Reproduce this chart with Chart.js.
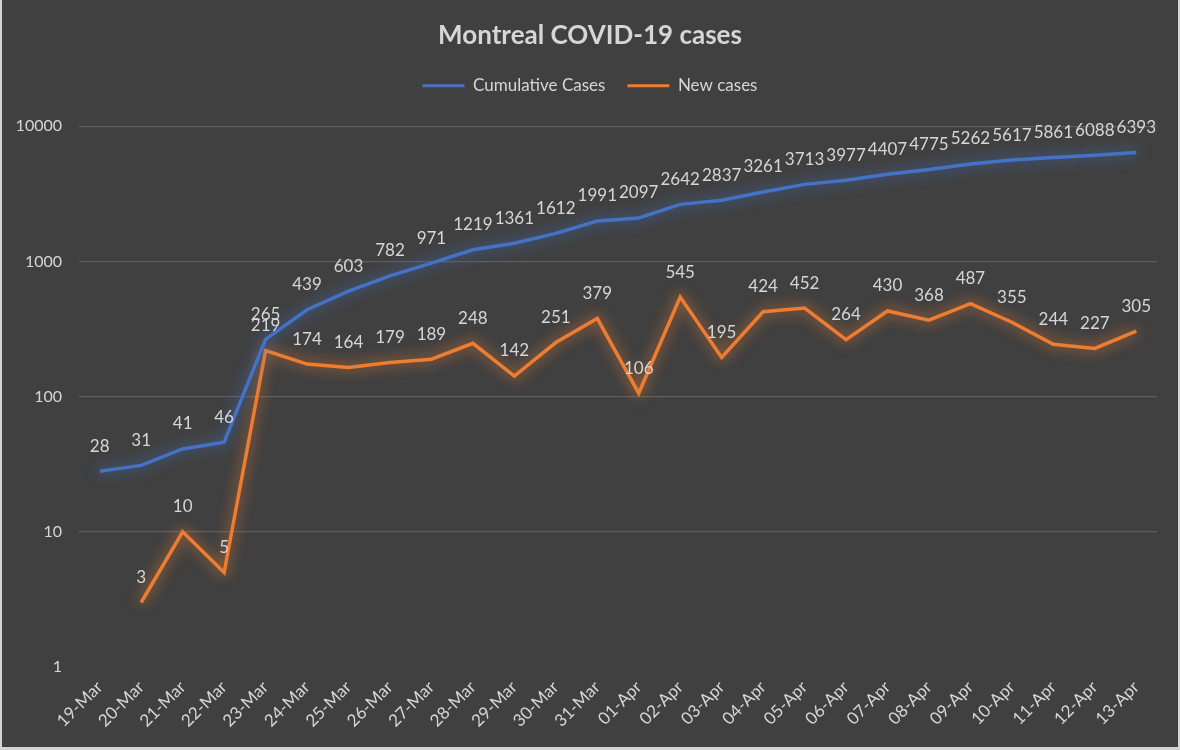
<!DOCTYPE html>
<html>
<head>
<meta charset="utf-8">
<title>Montreal COVID-19 cases</title>
<script src="https://cdn.jsdelivr.net/npm/chart.js@4"></script>
<style>
  html, body { margin: 0; padding: 0; background: #d4d4d4; width: 1180px; height: 750px; overflow: hidden; }
  #wrap { position: absolute; left: 2px; top: 0; width: 1176px; height: 747px; background: #404040; }
</style>
</head>
<body>
<div id="wrap"><canvas id="covidChart"></canvas></div>
<script>
// Daily data, 19-Mar to 13-Apr
const days = ['19-Mar', '20-Mar', '21-Mar', '22-Mar', '23-Mar', '24-Mar', '25-Mar', '26-Mar', '27-Mar',
  '28-Mar', '29-Mar', '30-Mar', '31-Mar', '01-Apr', '02-Apr', '03-Apr', '04-Apr', '05-Apr', '06-Apr',
  '07-Apr', '08-Apr', '09-Apr', '10-Apr', '11-Apr', '12-Apr', '13-Apr'];
const cumulativeCases = [28, 31, 41, 46, 265, 439, 603, 782, 971, 1219, 1361, 1612, 1991, 2097, 2642,
  2837, 3261, 3713, 3977, 4407, 4775, 5262, 5617, 5861, 6088, 6393];
const newCases = [null, 3, 10, 5, 219, 174, 164, 179, 189, 248, 142, 251, 379, 106, 545, 195, 424, 452,
  264, 430, 368, 487, 355, 244, 227, 305];
const yTicks = [1, 10, 100, 1000, 10000];

const BLUE = '#4472c4';
const ORANGE = '#ed7d31';
const TEXT = '#d6d6d6';
const FONT = 'Lato, "Open Sans", sans-serif';

// soft glow behind each line, like the Excel effect
const glowPlugin = {
  id: 'glow',
  beforeDatasetDraw(chart, args) {
    const ds = chart.data.datasets[args.index];
    chart.ctx.save();
    chart.ctx.shadowColor = ds.borderColor;
    chart.ctx.shadowBlur = 14;
  },
  afterDatasetDraw(chart) {
    chart.ctx.restore();
  }
};

// value labels above every point
const valueLabels = {
  id: 'valueLabels',
  afterDatasetsDraw(chart) {
    const ctx = chart.ctx;
    ctx.save();
    ctx.font = '17px ' + FONT;
    ctx.fillStyle = TEXT;
    ctx.textAlign = 'center';
    ctx.textBaseline = 'middle';
    chart.data.datasets.forEach((ds, i) => {
      chart.getDatasetMeta(i).data.forEach((pt, j) => {
        const v = ds.data[j];
        if (v === null || v === undefined) return;
        ctx.fillText(String(v), pt.x, pt.y - 25);
      });
    });
    ctx.restore();
  }
};

new Chart(document.getElementById('covidChart'), {
  type: 'line',
  data: {
    labels: days,
    datasets: [
      {
        label: 'Cumulative Cases',
        data: cumulativeCases,
        xAxisID: 'x',
        yAxisID: 'y',
        borderColor: BLUE,
        backgroundColor: BLUE,
        borderWidth: 3.5,
        pointRadius: 0,
        tension: 0
      },
      {
        label: 'New cases',
        data: newCases,
        xAxisID: 'x',
        yAxisID: 'y',
        borderColor: ORANGE,
        backgroundColor: ORANGE,
        borderWidth: 3.5,
        pointRadius: 0,
        tension: 0
      }
    ]
  },
  options: {
    responsive: true,
    maintainAspectRatio: false,
    animation: false,
    layout: { padding: 0 },
    plugins: {
      title: {
        display: true,
        text: 'Montreal COVID-19 cases',
        color: TEXT,
        font: { family: FONT, size: 26, weight: 'bold' },
        padding: { top: 20, bottom: 4 }
      },
      legend: {
        position: 'top',
        labels: {
          color: TEXT,
          font: { family: FONT, size: 17 },
          boxWidth: 42,
          boxHeight: 3,
          padding: 22,
          generateLabels(chart) {
            return chart.data.datasets.map((ds, i) => ({
              text: ds.label,
              fillStyle: ds.borderColor,
              strokeStyle: ds.borderColor,
              lineWidth: 0,
              fontColor: TEXT,
              datasetIndex: i,
              hidden: false
            }));
          }
        }
      },
      tooltip: { enabled: false }
    },
    scales: {
      x: {
        offset: true,
        grid: { display: false, drawTicks: false },
        border: { display: false },
        ticks: {
          color: TEXT,
          font: { family: FONT, size: 17 },
          minRotation: 45,
          maxRotation: 45,
          padding: 10,
          autoSkip: false
        },
        afterFit(scale) { scale.height = 80; }
      },
      y: {
        type: 'logarithmic',
        min: 1,
        max: 10000,
        afterBuildTicks(scale) {
          scale.ticks = yTicks.map(v => ({ value: v }));
        },
        grid: {
          drawTicks: false,
          color: ctx => (ctx.tick && ctx.tick.value === 1 ? 'rgba(0,0,0,0)' : '#5e5e5e'),
          lineWidth: 1.2
        },
        border: { display: false },
        ticks: {
          color: TEXT,
          font: { family: FONT, size: 16 },
          padding: 17,
          callback: v => String(v)
        },
        afterFit(scale) { scale.width = 77; }
      },
      // empty strips between legend and plot, and at the right edge
      spacer: {
        type: 'category',
        position: 'top',
        grid: { display: false, drawTicks: false },
        border: { display: false },
        ticks: { display: false },
        afterFit(scale) { scale.height = 22; }
      },
      spacerRight: {
        type: 'linear',
        position: 'right',
        grid: { display: false, drawTicks: false },
        border: { display: false },
        ticks: { display: false },
        afterFit(scale) { scale.width = 21; }
      }
    }
  },
  plugins: [glowPlugin, valueLabels]
});
</script>
</body>
</html>
